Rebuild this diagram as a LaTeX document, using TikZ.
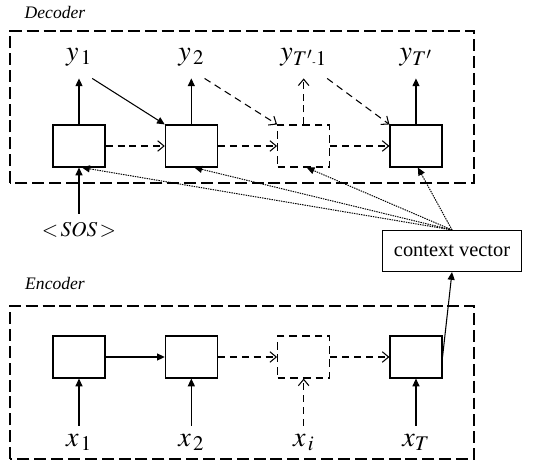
\documentclass[tikz,border=0pt]{standalone}
\usepackage{mathptmx}
\usepackage{fontspec}
\setmainfont{Liberation Serif}
\usepackage{tikz}
\usetikzlibrary{arrows.meta,calc,positioning}
\tikzset{
    mycell/.style={draw=black,line width=0.8pt,minimum width=1.3cm,minimum height=1.05cm,inner sep=0pt},
    mydashcell/.style={mycell,dash pattern=on 5.5pt off 3.5pt},
    myframe/.style={draw=black,line width=0.8pt,dash pattern=on 8.5pt off 3.5pt},
    ylabel/.style={font=\fontsize{20}{24}\selectfont,inner xsep=0pt,inner ysep=0.3cm},
    xlabel/.style={font=\fontsize{20}{24}\selectfont,inner xsep=0pt,inner ysep=0.2cm},
    blocklabel/.style={font=\itshape\fontsize{12.5}{15}\selectfont,inner sep=0pt},
    solidarr/.style={line width=0.75pt,-{Triangle[length=5.5pt,width=5pt]}},
    dasharr/.style={line width=0.75pt,dash pattern=on 5pt off 3.5pt,-{Straight Barb[length=4.5pt,width=7.5pt]}},
    dotarr/.style={line width=0.7pt,dash pattern=on 1pt off 0.7pt,-{Triangle[length=5.5pt,width=5pt]}}
}

\begin{document}
\begin{tikzpicture}
    \useasboundingbox (0,0) rectangle (13.4,11.6);

    % 外框
    \draw[myframe] (0.25,7.025) rectangle (11.85,10.825);
    \draw[myframe] (0.25,0.125) rectangle (11.85,3.95);
    \node[blocklabel] (declbl) at (1.375,11.3) {Decoder};
    \node[blocklabel] (enclbl) at (1.375,4.525) {Encoder};

    % 解码器
    \node[mycell] (d1) at (1.975,7.95) {};
    \node[mycell,right=1.48cm of d1] (d2) {};
    \node[mydashcell,right=1.48cm of d2] (d3) {};
    \node[mycell,right=1.48cm of d3] (d4) {};

    \node[ylabel,above=1.15cm of d1] (y1) {$y_{\,1}$};
    \node[ylabel,above=1.15cm of d2] (y2) {$y_{\,2}$};
    \node[ylabel,above=1.15cm of d3] (y3) {$y_{T'\mbox{\scriptsize -}1}$};
    \node[ylabel,above=1.15cm of d4] (y4) {$y_{T'}$};

    \node[
        xlabel,
        font=\fontsize{15}{18}\selectfont,
        below=1.15cm of d1
    ] (sos) {$<\!SOS\!>$};

    \draw[dasharr] (d1) -- (d2);
    \draw[dasharr] (d2) -- (d3);
    \draw[dasharr] (d3) -- (d4);

    \draw[solidarr] (d1.north) -- (y1);
    \draw[solidarr] (d2.north) -- (y2);
    \draw[dasharr] (d3.north) -- (y3);
    \draw[solidarr] (d4.north) -- (y4);

    \draw[solidarr] (y1.south east) -- (d2.north west);
    \draw[dasharr] (y2.south east) -- (d3.north west);
    \draw[dasharr] (y3.south east) -- (d4.north west);

    \draw[solidarr] (sos) -- (d1.south);

    % 上下文向量
    \node[
        draw=black,
        line width=0.8pt,
        minimum width=3.475cm,
        minimum height=1.025cm,
        font=\fontsize{14.5}{17}\selectfont
    ] (ctx) at (11.3,5.325) {context vector};

    \draw[dotarr] (ctx.north) -- (d1.-82);
    \draw[dotarr] (ctx.north) -- (d2.-82);
    \draw[dotarr] (ctx.north) -- (d3.-82);
    \draw[dotarr] (ctx.north) -- (d4.-85);

    % 编码器
    \node[mycell] (e1) at (1.975,2.675) {};
    \node[mycell,right=1.48cm of e1] (e2) {};
    \node[mydashcell,right=1.48cm of e2] (e3) {};
    \node[mycell,right=1.48cm of e3] (e4) {};

    \node[xlabel,below=1.175cm of e1] (x1) {$x_{\,1}$};
    \node[xlabel,below=1.175cm of e2] (x2) {$x_{\,2}$};
    \node[xlabel,below=1.175cm of e3] (x3) {$x_{\,i}$};
    \node[xlabel,below=1.175cm of e4] (x4) {$x_T$};

    \draw[solidarr] (e1) -- (e2);
    \draw[dasharr] (e2) -- (e3);
    \draw[dasharr] (e3) -- (e4);

    \draw[solidarr] (x1) -- (e1.south);
    \draw[solidarr] (x2) -- (e2.south);
    \draw[dasharr] (x3) -- (e3.south);
    \draw[solidarr] (x4) -- (e4.south);

    \draw[solidarr] (e4.east) -- (ctx.south);
\end{tikzpicture}
\end{document}
